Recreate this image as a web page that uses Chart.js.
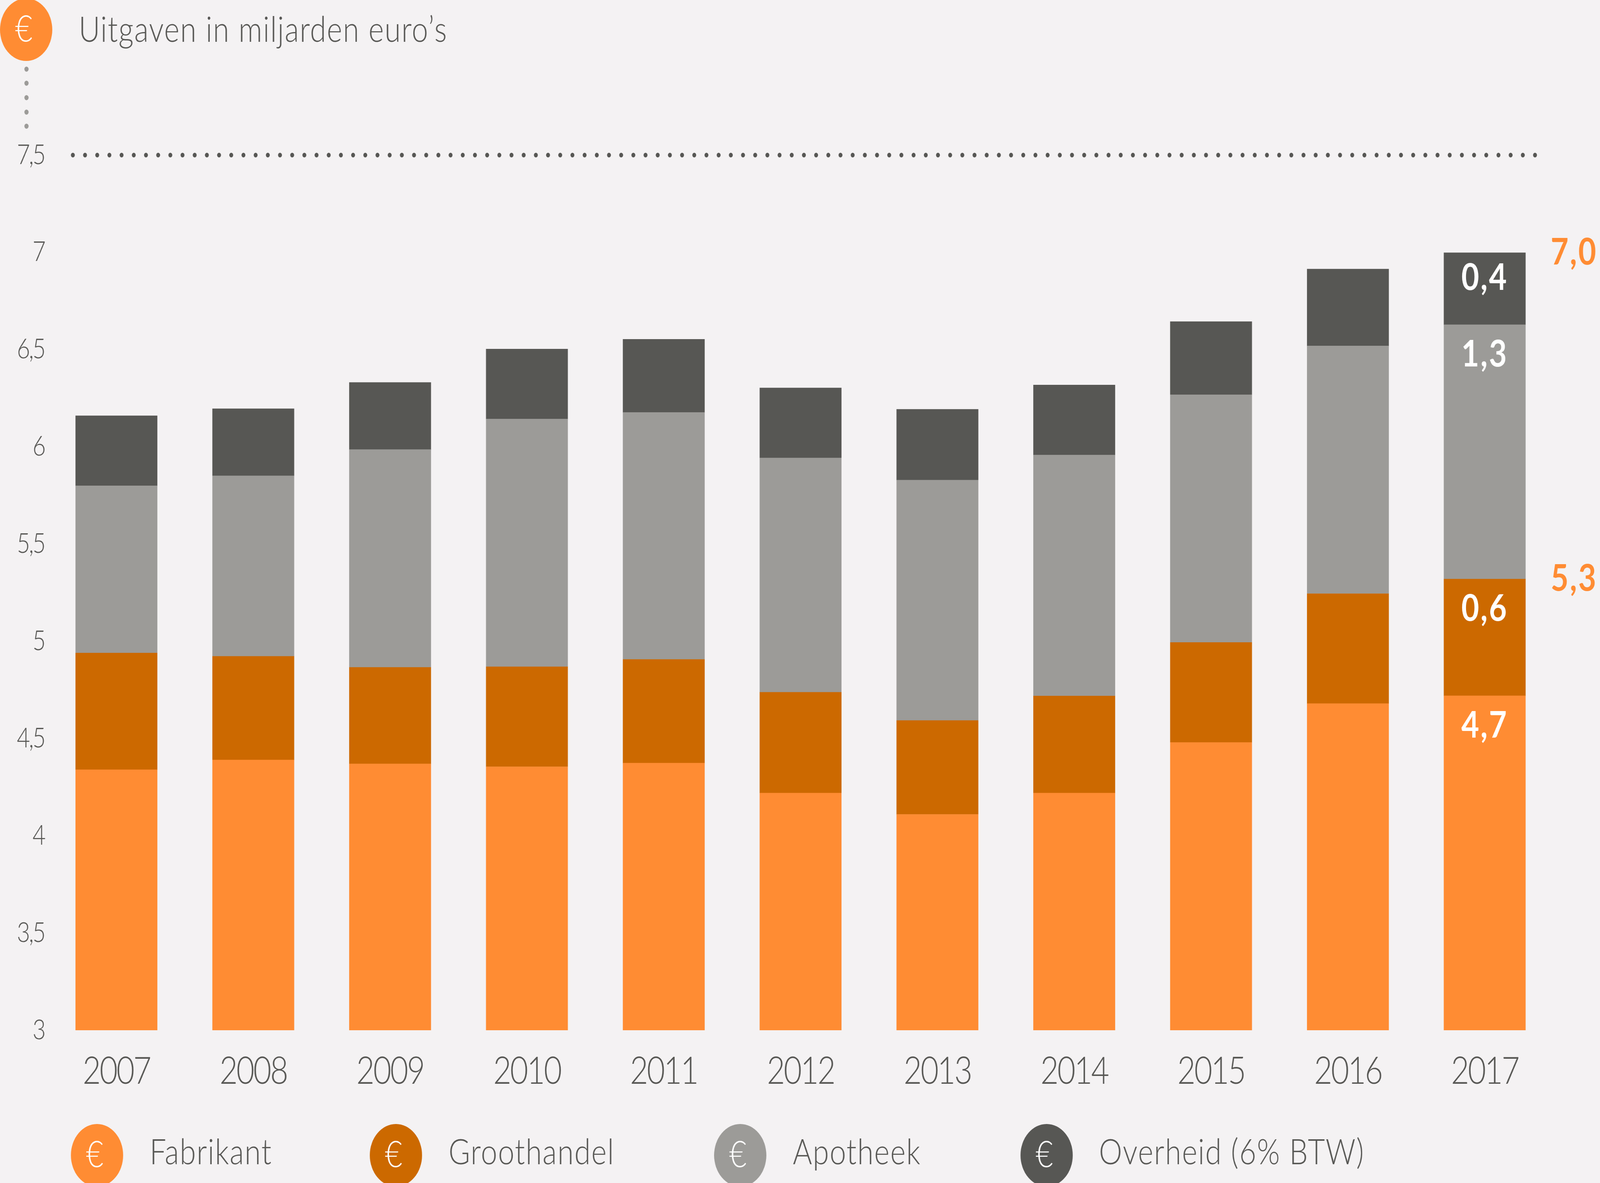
<!DOCTYPE html>
<html>
<head>
<meta charset="utf-8">
<script src="https://cdn.jsdelivr.net/npm/chart.js@4"></script>
<style>
  html, body { margin: 0; padding: 0; background: #f4f2f3; overflow: hidden; }
  /* drawn at 4898x3028, shown at whatever size the window really is */
  canvas { display: block; width: 100vw !important; height: 100vh !important; }
</style>
</head>
<body>
<canvas id="myChart" width="4898" height="3028"></canvas>
<script>
var years = ['2007', '2008', '2009', '2010', '2011', '2012', '2013', '2014', '2015', '2016', '2017'];
var fabrikant = [4.34, 4.39, 4.37, 4.355, 4.374, 4.22, 4.11, 4.22, 4.48, 4.68, 4.72];
var groothandel = [0.6, 0.533, 0.496, 0.514, 0.533, 0.518, 0.483, 0.499, 0.514, 0.565, 0.6];
var apotheek = [0.86, 0.928, 1.12, 1.274, 1.27, 1.205, 1.236, 1.239, 1.274, 1.274, 1.308];
var overheid = [0.36, 0.345, 0.345, 0.36, 0.376, 0.36, 0.364, 0.36, 0.376, 0.395, 0.37];
var yTickLabels = ['3', '3,5', '4', '4,5', '5', '5,5', '6', '6,5', '7', '7,5'];
// labels inside the 2017 bar, bottom to top
var labels2017 = ['4,7', '0,6', '1,3', '0,4'];
var totalLabels = ['5,3', '7,0'];
var seriesNames = ['Fabrikant', 'Groothandel', 'Apotheek', 'Overheid (6% BTW)'];
var seriesColors = ['#ff8c33', '#cc6900', '#9c9b98', '#575754'];
var titleText = 'Uitgaven in miljarden euro\u2019s';
var legendCircleX = [297, 1212, 2266, 3204];
var legendTextX = [458, 1373, 2427, 3364];

var textColor = '#575754';
var fontName = 'Lato';

function euroCircle(ctx, x, y, color) {
  ctx.fillStyle = color;
  ctx.beginPath();
  ctx.arc(x, y, 80, 0, Math.PI * 2);
  ctx.fill();
  ctx.fillStyle = '#ffffff';
  ctx.font = '300 92px ' + fontName;
  ctx.letterSpacing = '0px';
  ctx.textAlign = 'center';
  ctx.textBaseline = 'middle';
  ctx.fillText('\u20ac', x - 7, y);
}

var extras = {
  id: 'extras',
  beforeDraw: function (chart) {
    // tick labels are a bit tighter than Lato's default digits
    chart.ctx.letterSpacing = '-4px';
  },
  beforeDatasetsDraw: function (chart) {
    var ctx = chart.ctx;
    var y = chart.scales.y.getPixelForValue(7.5);
    ctx.save();
    // dotted line at the top of the axis
    ctx.strokeStyle = textColor;
    ctx.lineWidth = 12;
    ctx.lineCap = 'round';
    ctx.setLineDash([0, 37.3]);
    ctx.beginPath();
    ctx.moveTo(223, y);
    ctx.lineTo(4710, y);
    ctx.stroke();
    ctx.restore();
  },
  afterDraw: function (chart) {
    var ctx = chart.ctx;
    var xs = chart.scales.x;
    var ys = chart.scales.y;
    ctx.save();
    // title + dots down to the axis
    euroCircle(ctx, 80, 76, seriesColors[0]);
    ctx.fillStyle = textColor;
    ctx.font = '300 90px ' + fontName;
    ctx.letterSpacing = '2.2px';
    ctx.textAlign = 'left';
    ctx.textBaseline = 'alphabetic';
    ctx.fillText(titleText, 241, 107);
    ctx.fillStyle = seriesColors[2];
    [177, 213, 250, 287, 323].forEach(function (dotY) {
      ctx.beginPath();
      ctx.arc(81, dotY, 6.5, 0, Math.PI * 2);
      ctx.fill();
    });

    // legend
    seriesNames.forEach(function (name, i) {
      euroCircle(ctx, legendCircleX[i], 2957, seriesColors[i]);
      ctx.fillStyle = textColor;
      ctx.font = '300 90px ' + fontName;
      ctx.letterSpacing = '2.2px';
      ctx.textAlign = 'left';
      ctx.textBaseline = 'alphabetic';
      ctx.fillText(name, legendTextX[i], 2980);
    });

    // 2017 labels
    var last = years.length - 1;
    var x = xs.getPixelForValue(last);
    var stacks = [fabrikant, groothandel, apotheek, overheid];
    var top = 0;
    var tops = [];
    ctx.font = '700 94px ' + fontName;
    ctx.letterSpacing = '4px';
    ctx.textBaseline = 'middle';
    ctx.textAlign = 'center';
    ctx.fillStyle = '#ffffff';
    stacks.forEach(function (s, i) {
      top += s[last];
      tops.push(top);
      var offset = i === 3 ? 65 : 77;
      ctx.fillText(labels2017[i], x, ys.getPixelForValue(top) + offset);
    });
    ctx.fillStyle = seriesColors[0];
    ctx.textAlign = 'right';
    ctx.fillText(totalLabels[0], 4890, ys.getPixelForValue(tops[1]));
    ctx.fillText(totalLabels[1], 4890, ys.getPixelForValue(tops[3]));
    ctx.restore();
  }
};

new Chart('myChart', {
  type: 'bar',
  data: {
    labels: years,
    datasets: [
      { label: seriesNames[0], data: fabrikant, backgroundColor: seriesColors[0] },
      { label: seriesNames[1], data: groothandel, backgroundColor: seriesColors[1] },
      { label: seriesNames[2], data: apotheek, backgroundColor: seriesColors[2] },
      { label: seriesNames[3], data: overheid, backgroundColor: seriesColors[3] }
    ]
  },
  options: {
    responsive: false,
    devicePixelRatio: 1,
    animation: false,
    layout: { padding: { top: 397, right: 143.5, bottom: 0, left: 0 } },
    datasets: { bar: { barThickness: 250 } },
    plugins: { legend: { display: false }, tooltip: { enabled: false } },
    scales: {
      x: {
        stacked: true,
        grid: { display: false },
        border: { display: false },
        afterFit: function (scale) { scale.height = 391; },
        ticks: {
          color: textColor,
          font: { family: fontName, size: 96, weight: '300' },
          padding: 40,
          maxRotation: 0,
          autoSkip: false
        }
      },
      y: {
        stacked: true,
        min: 3,
        max: 7.5,
        grid: { display: false },
        border: { display: false },
        afterFit: function (scale) { scale.width = 147; },
        ticks: {
          stepSize: 0.5,
          color: textColor,
          font: { family: fontName, size: 70, weight: '300' },
          padding: 3,
          callback: function (value, index) { return yTickLabels[index]; }
        }
      }
    }
  },
  plugins: [extras]
});
</script>
</body>
</html>
